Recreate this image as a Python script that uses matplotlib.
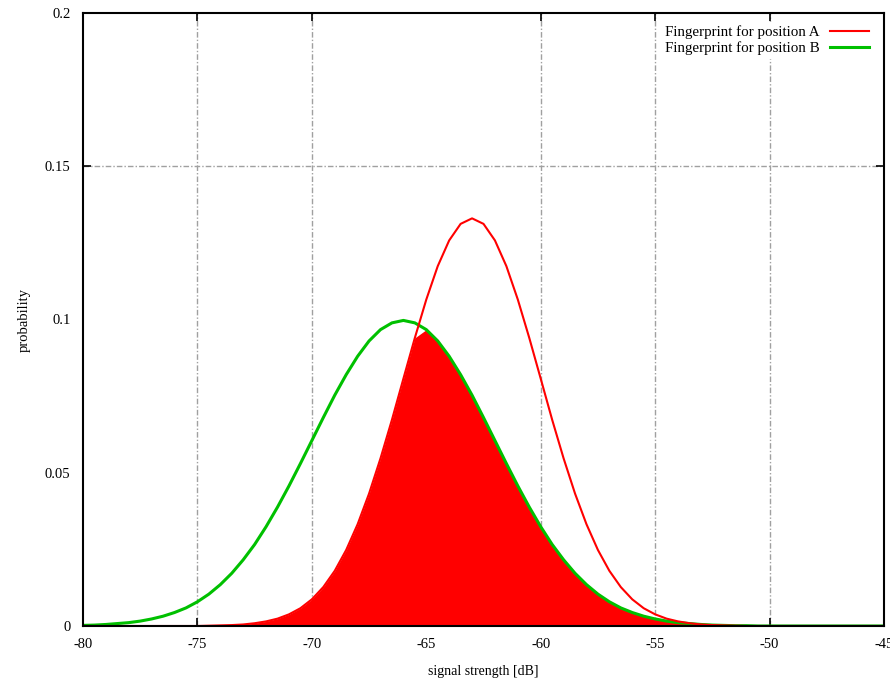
import numpy as np
import matplotlib
matplotlib.use("Agg")
import matplotlib.pyplot as plt
from matplotlib.ticker import FixedLocator

# signal strength grid [dB], 0.5 dB steps from -80 to -45
signal = np.linspace(-80, -45, 71)

# fingerprint A (peak ~0.133 at -63 dB)
prob_a = [0.0000, 0.0000, 0.0000, 0.0000, 0.0000, 0.0000, 0.0000, 0.0000, 0.0000, 0.0000,
          0.0000, 0.0001, 0.0002, 0.0003, 0.0005, 0.0009, 0.0015, 0.0024, 0.0038, 0.0058,
          0.0087, 0.0127, 0.0180, 0.0248, 0.0332, 0.0432, 0.0547, 0.0673, 0.0807, 0.0940,
          0.1065, 0.1174, 0.1258, 0.1312, 0.1330, 0.1312, 0.1258, 0.1174, 0.1065, 0.0940,
          0.0807, 0.0673, 0.0547, 0.0432, 0.0332, 0.0248, 0.0180, 0.0127, 0.0087, 0.0058,
          0.0038, 0.0024, 0.0015, 0.0009, 0.0005, 0.0003, 0.0002, 0.0001, 0.0000, 0.0000,
          0.0000, 0.0000, 0.0000, 0.0000, 0.0000, 0.0000, 0.0000, 0.0000, 0.0000, 0.0000,
          0.0000]

# fingerprint B (peak ~0.1 at -66 dB)
prob_b = [0.0002, 0.0003, 0.0005, 0.0008, 0.0011, 0.0016, 0.0023, 0.0032, 0.0044, 0.0059,
          0.0079, 0.0104, 0.0135, 0.0172, 0.0216, 0.0266, 0.0324, 0.0388, 0.0457, 0.0530,
          0.0605, 0.0680, 0.0753, 0.0820, 0.0880, 0.0930, 0.0967, 0.0989, 0.0997, 0.0989,
          0.0967, 0.0930, 0.0880, 0.0820, 0.0753, 0.0680, 0.0605, 0.0530, 0.0457, 0.0388,
          0.0324, 0.0266, 0.0216, 0.0172, 0.0135, 0.0104, 0.0079, 0.0059, 0.0044, 0.0032,
          0.0023, 0.0016, 0.0011, 0.0008, 0.0005, 0.0003, 0.0002, 0.0001, 0.0001, 0.0000,
          0.0000, 0.0000, 0.0000, 0.0000, 0.0000, 0.0000, 0.0000, 0.0000, 0.0000, 0.0000,
          0.0000]

x_ticks = [-80, -75, -70, -65, -60, -55, -50, -45]
y_ticks = [0, 0.05, 0.1, 0.15, 0.2]
y_ticklabels = ["0", "0.05", "0.1", "0.15", "0.2"]
x_grid = [-75, -70, -60, -55, -50]
y_grid = [0.15]

plt.rcParams['font.family'] = ['Liberation Serif', 'DejaVu Serif']
plt.rcParams['font.size'] = 10.5

fig = plt.figure(figsize=(8.9, 6.79), dpi=100)
ax = fig.add_axes([83 / 890, 53 / 679, 801 / 890, 613 / 679])

a = np.array(prob_a)
b = np.array(prob_b)
ax.fill_between(signal, 0, np.minimum(a, b), color='#ff0000', linewidth=0, zorder=2)
ax.plot(signal, b, color='#00c000', lw=2.2, label='Fingerprint for position B', zorder=3)
ax.plot(signal, a, color='#ff0000', lw=1.5, label='Fingerprint for position A', zorder=4)

ax.set_xlim(-80, -45)
ax.set_ylim(0, 0.2)
ax.set_xticks(x_ticks)
ax.set_xticklabels([str(t) for t in x_ticks])
ax.set_yticks(y_ticks)
ax.set_yticklabels(y_ticklabels)
ax.tick_params(which='major', length=0, pad=9)

# gnuplot-style: only some positions carry a tick mark and a grid line
ax.xaxis.remove_overlapping_locs = False
ax.yaxis.remove_overlapping_locs = False
ax.xaxis.set_minor_locator(FixedLocator(x_grid))
ax.yaxis.set_minor_locator(FixedLocator(y_grid))
ax.tick_params(which='minor', direction='in', length=6, width=1.2,
               top=True, right=True, bottom=True, left=True)
ax.grid(which='minor', color='#a0a0a0', linestyle=(0, (4, 1.5, 1, 1.5)),
        linewidth=1.0, zorder=1)
ax.set_axisbelow(True)
for s in ax.spines.values():
    s.set_linewidth(1.5)
    s.set_zorder(5)

ax.set_xlabel('signal strength [dB]', labelpad=10, fontsize=10)
ax.set_ylabel('probability', labelpad=10)

h, l = ax.get_legend_handles_labels()
leg = ax.legend(h[::-1], l[::-1], loc='upper right', bbox_to_anchor=(0.995, 0.997),
                markerfirst=False, handlelength=2.6, handletextpad=0.7,
                labelspacing=0.15, borderpad=0.2, frameon=True, fancybox=False,
                framealpha=1, edgecolor='white', facecolor='white', fontsize=10.8)
leg.set_zorder(6)

fig.savefig('out.png', dpi=100)
